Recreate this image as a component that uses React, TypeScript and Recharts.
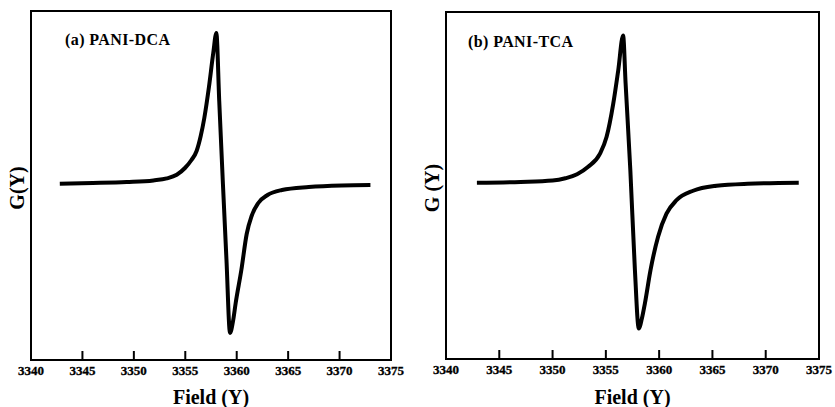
import { LineChart, Line, XAxis, YAxis, ReferenceArea, ReferenceLine, Label } from 'recharts';

// field values (G) and signal, arbitrary units (baseline = 0)
const dcaField = [
  3342.8, 3346, 3349.3, 3351.9, 3353.2, 3354.17, 3354.97, 3355.6, 3356.1, 3356.5,
  3356.85, 3357.3, 3357.72, 3358.02, 3358.3, 3358.66, 3359.0, 3359.35, 3359.66,
  3359.9, 3360.45, 3360.97, 3361.45, 3362.1, 3363.0, 3364.4, 3367, 3370.2, 3373,
];
const dcaSignal = [
  0.3, 1, 2, 3.6, 5.6, 9.3, 16, 24, 33, 48,
  66, 97, 131, 151, 83, 0, -75, -149, -136,
  -119, -86, -50, -32, -19, -11, -6, -3, -1.4, -1,
];

const tcaField = [
  3342.9, 3347, 3350, 3351.2, 3352.3, 3353.34, 3354.44, 3355.07, 3355.69, 3356.16,
  3356.62, 3356.85, 3357.3, 3357.72, 3358.09, 3358.38, 3358.66, 3359.19, 3359.9,
  3360.69, 3361.63, 3363.19, 3365.38, 3368.3, 3373.1,
];
const tcaSignal = [
  0, 0.8, 2.2, 4.5, 8.5, 16, 29, 46, 79, 112.5,
  147.5, 100, 12, -86, -146, -136, -121, -87.5, -54,
  -31, -17.5, -8, -3, -1, 0,
];

const fieldTicks = [3340, 3345, 3350, 3355, 3360, 3365, 3370, 3375];

const dcaData = dcaField.map((f, i) => ({ field: f, g: dcaSignal[i] }));
const tcaData = tcaField.map((f, i) => ({ field: f, g: tcaSignal[i] }));

const FONT = '"Liberation Serif", "Times New Roman", serif';

interface PanelProps {
  data: { field: number; g: number }[];
  yDomain: [number, number];
  title: string;
  yTitle: string;
  width: number;
  margin: { top: number; left: number; right: number; bottom: number };
  titlePos: [number, number];
  yTitlePos: [number, number];
}

function Panel({ data, yDomain, title, yTitle, width, margin, titlePos, yTitlePos }: PanelProps) {
  const tickLen = 9; // y units ~ px here, ticks point inward
  return (
    <LineChart width={width} height={407} data={data} margin={margin}>
      <XAxis type="number" dataKey="field" domain={[3340, 3375]} allowDataOverflow hide />
      <YAxis type="number" domain={yDomain} allowDataOverflow hide />
      <ReferenceArea
        x1={3340}
        x2={3375}
        y1={yDomain[0]}
        y2={yDomain[1]}
        fill="none"
        stroke="#000"
        strokeWidth={2}
        ifOverflow="visible"
      >
        <Label
          content={() => (
            <g>
              <text x={titlePos[0]} y={titlePos[1]} fontFamily={FONT} fontWeight="bold" fontSize={16}
                letterSpacing={0.4} fill="#000">
                {title}
              </text>
              <text
                x={yTitlePos[0]}
                y={yTitlePos[1]}
                transform={`rotate(-90 ${yTitlePos[0]} ${yTitlePos[1]})`}
                textAnchor="middle"
                dominantBaseline="central"
                fontFamily={FONT}
                fontWeight="bold"
                fontSize={20}
                fill="#000"
              >
                {yTitle}
              </text>
              <text x={margin.left + (width - margin.left - margin.right) / 2} y={404} textAnchor="middle"
                fontFamily={FONT} fontWeight="bold" fontSize={20} fill="#000">
                Field (Y)
              </text>
            </g>
          )}
        />
      </ReferenceArea>
      {fieldTicks.map((t) => (
        <ReferenceLine
          key={t}
          segment={[{ x: t, y: yDomain[0] }, { x: t, y: yDomain[0] + tickLen }]}
          stroke="#000"
          strokeWidth={2}
          ifOverflow="visible"
        >
          <Label
            content={(p: any) => {
              const vb = p.viewBox || {};
              return (
                <text x={vb.x} y={vb.y + vb.height + 15} textAnchor="middle" fontFamily={FONT}
                  fontWeight="bold" fontSize={13} stroke="#000" strokeWidth={0.3} fill="#000">
                  {t}
                </text>
              );
            }}
          />
        </ReferenceLine>
      ))}
      <Line
        type="monotone"
        dataKey="g"
        stroke="#000"
        strokeWidth={4}
        dot={false}
        isAnimationActive={false}
      />
    </LineChart>
  );
}

export default function App() {
  return (
    <div style={{ position: 'fixed', left: 0, top: 0, width: 835, height: 407, background: '#fff' }}>
      <div style={{ position: 'absolute', left: 0, top: 0 }}>
        <Panel
          data={dcaData}
          yDomain={[-176, 173]}
          title="(a) PANI-DCA"
          yTitle="G(Y)"
          width={420}
          margin={{ top: 11, left: 31, right: 29, bottom: 47 }}
          titlePos={[65, 45]}
          yTitlePos={[17, 188]}
        />
      </div>
      <div style={{ position: 'absolute', left: 420, top: 0 }}>
        <Panel
          data={tcaData}
          yDomain={[-176.5, 171]}
          title="(b) PANI-TCA"
          yTitle="G (Y)"
          width={415}
          margin={{ top: 12, left: 26, right: 16, bottom: 48 }}
          titlePos={[48, 47]}
          yTitlePos={[12, 188]}
        />
      </div>
    </div>
  );
}
